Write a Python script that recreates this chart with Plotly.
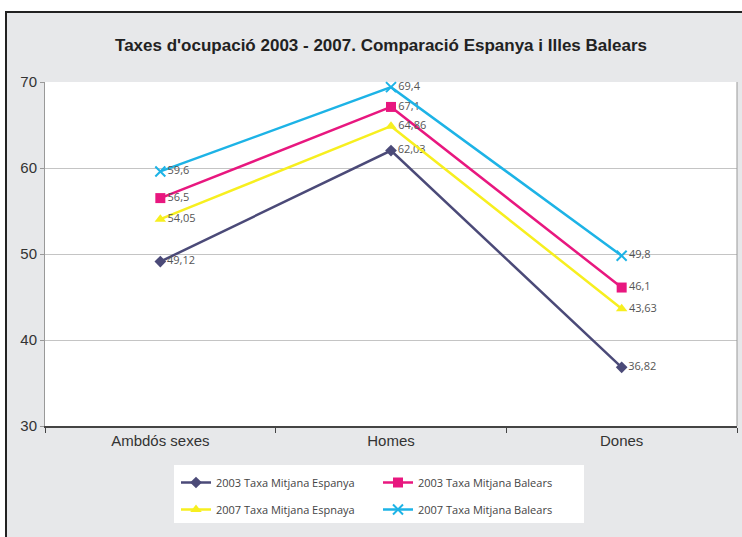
import plotly.graph_objects as go

categories = ["Ambdós sexes", "Homes", "Dones"]
esp_2003 = [49.12, 62.03, 36.82]
bal_2003 = [56.5, 67.1, 46.1]
esp_2007 = [54.05, 64.86, 43.63]
bal_2007 = [59.6, 69.4, 49.8]
series_names = ["2003 Taxa Mitjana Espanya", "2003 Taxa Mitjana Balears",
                "2007 Taxa Mitjana Espnaya", "2007 Taxa Mitjana Balears"]
y_ticks = [30, 40, 50, 60, 70]

W, H = 742, 537
ML, MR, MT, MB = 45, 5, 82, 111
PW, PH = W - ML - MR, H - MT - MB

def px_x(p):
    return (p - ML) / PW

def px_y(p):
    return (H - MB - p) / PH

def fmt(v):
    return ("%g" % v).replace(".", ",")

styles = [
    dict(color="#4b4a78", symbol="diamond", size=9, legend="legend"),
    dict(color="#e8177f", symbol="square", size=10, legend="legend"),
    dict(color="#f7ef1f", symbol="triangle-up", size=10, legend="legend2"),
    dict(color="#1db3e6", symbol="x-thin", size=10, legend="legend2"),
]
data = [esp_2003, bal_2003, esp_2007, bal_2007]

fig = go.Figure()
for name, vals, st in zip(series_names, data, styles):
    is_x = st["symbol"] == "x-thin"
    fig.add_trace(go.Scatter(
        x=categories, y=vals, name=name, mode="lines+markers+text",
        text=[fmt(v) for v in vals], textposition="middle right",
        textfont=dict(family="Open Sans", size=11, color="#555555"),
        line=dict(color=st["color"], width=2.5),
        marker=dict(symbol=st["symbol"], size=st["size"], color=st["color"],
                    line=dict(color=st["color"], width=2 if is_x else 0)),
        legend=st["legend"], cliponaxis=False,
    ))

shapes = [
    # white strips outside the frame
    dict(type="rect", xref="paper", yref="paper", x0=px_x(-5), x1=px_x(W + 5),
         y0=px_y(-5), y1=px_y(11), fillcolor="white", line_width=0, layer="above"),
    dict(type="rect", xref="paper", yref="paper", x0=px_x(-5), x1=px_x(5),
         y0=px_y(-5), y1=px_y(H + 5), fillcolor="white", line_width=0, layer="above"),
    # dark frame lines
    dict(type="line", xref="paper", yref="paper", x0=px_x(5), x1=px_x(W + 5),
         y0=px_y(12), y1=px_y(12), line=dict(color="#222222", width=2), layer="above"),
    dict(type="line", xref="paper", yref="paper", x0=px_x(6), x1=px_x(6),
         y0=px_y(11), y1=px_y(H + 5), line=dict(color="#222222", width=2), layer="above"),
    # legend box
    dict(type="rect", xref="paper", yref="paper", x0=px_x(174), x1=px_x(584),
         y0=px_y(465), y1=px_y(523), fillcolor="white", line_width=0, layer="below"),
    # right border of plot area
    dict(type="line", xref="paper", yref="paper", x0=1, x1=1, y0=0, y1=1,
         line=dict(color="#999999", width=1)),
]

legend_common = dict(orientation="h", xanchor="left", yanchor="top",
                     bgcolor="rgba(0,0,0,0)",
                     font=dict(family="Open Sans", size=11, color="#444444"),
                     entrywidth=157, entrywidthmode="pixels",
                     tracegroupgap=0, itemwidth=30)

fig.update_layout(
    width=W, height=H,
    margin=dict(l=ML, r=MR, t=MT, b=MB),
    paper_bgcolor="#e7e8ea", plot_bgcolor="white",
    title=dict(text="Taxes d'ocupació 2003 - 2007. Comparació Espanya i Illes Balears",
               x=381 / W, xref="container", xanchor="center",
               y=1 - 45 / H, yref="container", yanchor="middle",
               font=dict(family="Liberation Sans", size=17, color="#222222", weight="bold")),
    xaxis=dict(type="category", range=[-0.5, 2.5], showgrid=False,
               showline=True, linecolor="#444444", linewidth=1.5, mirror=False,
               ticks="outside", tickson="boundaries", ticklen=5, tickcolor="#444444",
               tickfont=dict(family="Liberation Sans", size=15, color="#333333")),
    yaxis=dict(range=[30, 70], tickvals=y_ticks, showgrid=True, gridcolor="#c4c4c4",
               gridwidth=1, showline=True, linecolor="#999999", linewidth=1,
               ticks="outside", ticklen=4, tickcolor="#999999",
               tickfont=dict(family="Liberation Sans", size=15, color="#333333"),
               zeroline=False),
    legend=dict(x=px_x(176), y=px_y(468), **legend_common),
    legend2=dict(x=px_x(176), y=px_y(495), **legend_common),
    shapes=shapes,
    showlegend=True,
)

fig.write_html("out.html", config={"displayModeBar": False},
               post_script="document.body.style.margin='0';")
